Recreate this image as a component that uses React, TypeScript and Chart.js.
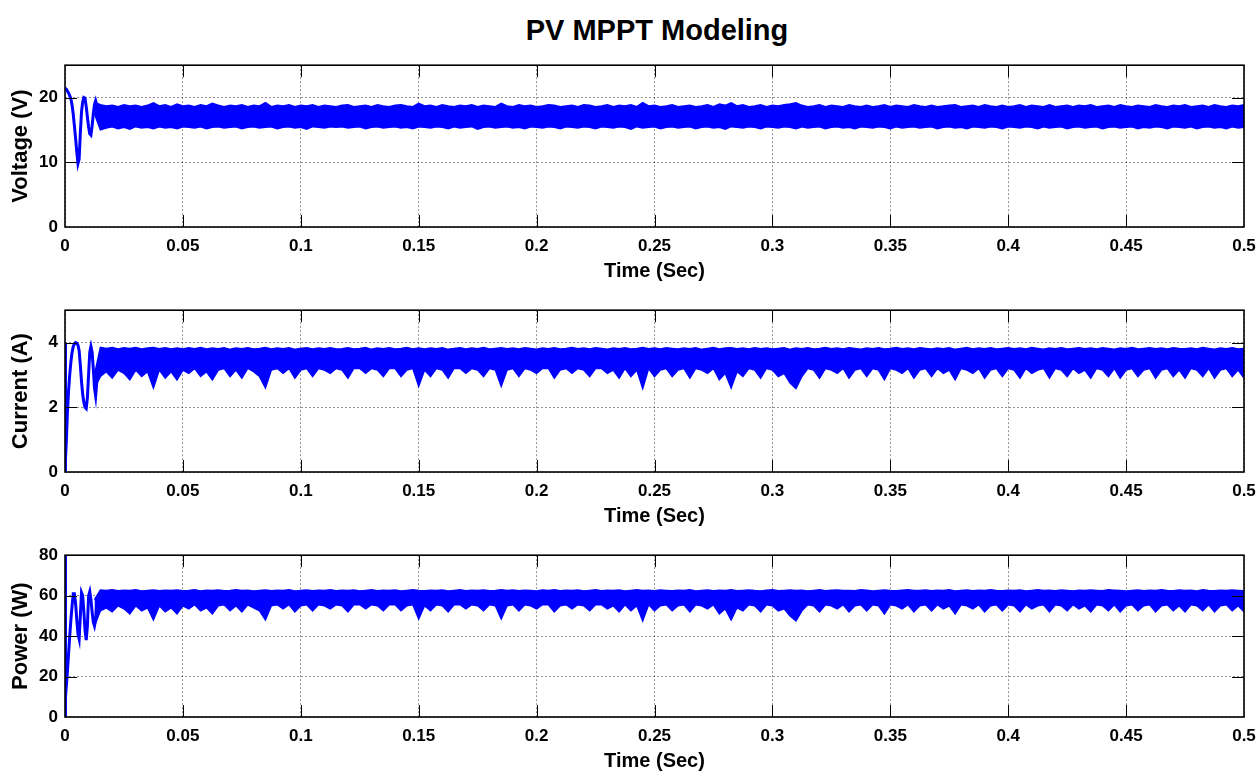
import React, { useEffect, useRef } from 'react';
import { Chart, registerables } from 'chart.js';

Chart.register(...registerables);

const FONT = 'Arial, "Liberation Sans", Helvetica, sans-serif';
const BLUE = '#0000ff';
const GRID = 'rgba(0,0,0,0.42)';

const TITLE = 'PV MPPT Modeling';
const X_TITLE = 'Time (Sec)';
const X_TICKS = [0, 0.05, 0.1, 0.15, 0.2, 0.25, 0.3, 0.35, 0.4, 0.45, 0.5];
const X_TICK_LABELS = ['0', '0.05', '0.1', '0.15', '0.2', '0.25', '0.3', '0.35', '0.4', '0.45', '0.5'];

const V_TICKS = [0, 10, 20];
const V_TICK_LABELS = ['0', '10', '20'];
const I_TICKS = [0, 2, 4];
const I_TICK_LABELS = ['0', '2', '4'];
const P_TICKS = [0, 20, 40, 60, 80];
const P_TICK_LABELS = ['0', '20', '40', '60', '80'];

// start-up transient (s)
const TR_T = [0, 0.0001, 0.0003, 0.0006, 0.001, 0.0015, 0.002, 0.0025, 0.003, 0.0035, 0.004, 0.0045, 0.005, 0.0055, 0.006, 0.0065, 0.007, 0.0075, 0.008, 0.0085, 0.009, 0.0095, 0.01, 0.0105, 0.011, 0.0115, 0.012, 0.0125, 0.013, 0.0135];
const V_TR = [21.5, 21.5, 21.4, 21.3, 21.0, 20.7, 20.3, 19.8, 18.8, 17.4, 15.6, 13.6, 11.6, 9.8, 10.5, 14.5, 17.8, 19.3, 20.0, 19.9, 18.6, 17.0, 15.5, 14.4, 14.2, 15.6, 17.5, 18.9, 19.5, 18.8];
const I_TR = [0, 4.0, 0.4, 1.0, 1.8, 2.5, 3.0, 3.4, 3.7, 3.88, 3.96, 4.0, 3.98, 3.92, 3.75, 3.3, 2.8, 2.4, 2.15, 2.0, 1.96, 2.3, 3.0, 3.7, 3.88, 3.7, 3.2, 2.6, 2.35, 2.8];
const P_TR = [0, 80, 10, 16, 22, 31, 40, 48, 55, 61, 61, 56, 48, 41, 38.5, 50, 61.5, 60, 52, 43, 38, 45, 60, 62, 58, 52, 47, 45, 48, 56];

// steady-state ripple band: envelopes sampled every BAND_STEP seconds from BAND_START
const BAND_START = 0.0125;
const BAND_STEP = 0.0025;

const V_HIGH = [
  19.3, 18.9, 18.7, 18.8, 18.6, 18.9, 18.7, 18.8, 18.6, 18.8, 19.2, 18.7, 18.9, 18.6,
  19.0, 18.7, 18.8, 18.6, 18.9, 18.7, 19.1, 18.8, 18.6, 18.8, 18.7, 18.9, 18.6, 18.8,
  18.7, 19.2, 18.6, 18.8, 18.7, 18.9, 18.6, 18.8, 18.7, 18.9, 18.6, 18.8, 18.7, 18.6,
  18.8, 18.9, 18.6, 18.7, 18.8, 18.6, 18.9, 18.7, 18.6, 18.8, 18.9, 18.7, 18.6, 19.1,
  18.7, 18.8, 18.6, 18.9, 18.7, 18.6, 18.8, 18.7, 18.9, 18.6, 18.8, 18.7, 18.6, 19.1,
  18.7, 18.6, 18.9, 18.7, 18.8, 18.6, 18.7, 18.9, 18.8, 18.6, 18.7, 18.8, 18.6, 18.9,
  18.8, 18.6, 18.7, 18.9, 18.6, 18.8, 18.7, 18.9, 18.6, 19.2, 18.7, 18.8, 18.6, 18.7,
  18.9, 18.6, 18.7, 18.8, 18.6, 18.7, 18.9, 18.6, 19.0, 18.8, 19.2, 18.7, 18.9, 18.6,
  18.7, 18.9, 18.6, 18.8, 18.7, 18.9, 19.0, 19.2, 18.8, 18.6, 18.7, 18.9, 18.6, 18.8,
  18.7, 18.6, 18.9, 18.7, 18.6, 18.8, 18.6, 18.7, 18.9, 18.6, 18.8, 18.7, 18.6, 18.9,
  18.7, 18.6, 18.8, 18.6, 18.7, 18.8, 18.9, 18.6, 18.7, 18.8, 18.6, 18.9, 18.7, 18.6,
  18.8, 18.6, 18.7, 18.9, 18.6, 18.8, 18.7, 18.6, 18.9, 18.6, 18.7, 18.8, 18.6, 18.8,
  18.7, 18.9, 18.6, 18.7, 18.8, 18.6, 18.9, 18.7, 18.6, 18.8, 18.7, 18.6, 18.9, 18.7,
  18.6, 18.8, 18.7, 18.9, 18.6, 18.7, 18.8, 18.6, 18.9, 18.7, 18.6, 18.8, 18.7, 18.9,
];
const V_LOW = [
  17.5, 15.0, 15.3, 15.5, 15.2, 15.4, 15.1, 15.5, 15.3, 15.4, 15.2, 15.5, 15.3, 15.4,
  15.2, 15.5, 15.4, 15.3, 15.5, 15.2, 15.4, 15.5, 15.3, 15.4, 15.5, 15.2, 15.4, 15.5,
  15.3, 15.4, 15.5, 15.2, 15.4, 15.5, 15.3, 15.4, 15.1, 15.5, 15.4, 15.3, 15.5, 15.4,
  15.5, 15.3, 15.4, 15.5, 15.2, 15.4, 15.5, 15.3, 15.4, 15.5, 15.3, 15.4, 15.2, 15.5,
  15.4, 15.3, 15.5, 15.4, 15.2, 15.5, 15.3, 15.4, 15.5, 15.1, 15.4, 15.5, 15.3, 15.4,
  15.5, 15.3, 15.4, 15.2, 15.5, 15.4, 15.3, 15.5, 15.4, 15.2, 15.5, 15.4, 15.3, 15.5,
  15.4, 15.2, 15.5, 15.4, 15.3, 15.5, 15.4, 15.1, 15.5, 15.3, 15.4, 15.5, 15.2, 15.4,
  15.5, 15.3, 15.4, 15.5, 15.2, 15.4, 15.5, 15.3, 15.4, 15.1, 15.5, 15.4, 15.3, 15.5,
  15.4, 15.2, 15.5, 15.4, 15.3, 15.5, 15.4, 15.2, 15.5, 15.3, 15.4, 15.5, 15.2, 15.4,
  15.5, 15.3, 15.4, 15.2, 15.5, 15.4, 15.3, 15.5, 15.4, 15.2, 15.5, 15.3, 15.4, 15.5,
  15.3, 15.4, 15.5, 15.2, 15.4, 15.5, 15.3, 15.4, 15.2, 15.5, 15.4, 15.3, 15.5, 15.4,
  15.2, 15.5, 15.4, 15.3, 15.5, 15.4, 15.2, 15.5, 15.3, 15.4, 15.5, 15.2, 15.4, 15.5,
  15.3, 15.4, 15.5, 15.2, 15.4, 15.5, 15.3, 15.4, 15.5, 15.2, 15.4, 15.3, 15.5, 15.4,
  15.2, 15.5, 15.4, 15.3, 15.5, 15.2, 15.4, 15.5, 15.3, 15.4, 15.2, 15.5, 15.3, 15.4,
];

const I_HIGH = [
  3.0, 3.85, 3.82, 3.85, 3.8, 3.84, 3.82, 3.85, 3.8, 3.83, 3.85, 3.81, 3.84, 3.8,
  3.83, 3.8, 3.84, 3.81, 3.85, 3.8, 3.83, 3.81, 3.84, 3.79, 3.83, 3.81, 3.84, 3.8,
  3.82, 3.85, 3.8, 3.83, 3.81, 3.84, 3.79, 3.82, 3.84, 3.8, 3.83, 3.81, 3.84, 3.8,
  3.81, 3.84, 3.8, 3.82, 3.85, 3.79, 3.83, 3.81, 3.84, 3.8, 3.82, 3.85, 3.8, 3.83,
  3.8, 3.83, 3.81, 3.84, 3.79, 3.82, 3.84, 3.8, 3.83, 3.81, 3.85, 3.8, 3.82, 3.84,
  3.81, 3.83, 3.8, 3.84, 3.82, 3.79, 3.83, 3.81, 3.84, 3.8, 3.82, 3.85, 3.81, 3.83,
  3.8, 3.84, 3.82, 3.79, 3.83, 3.81, 3.84, 3.8, 3.82, 3.85, 3.81, 3.83, 3.8, 3.84,
  3.82, 3.8, 3.83, 3.81, 3.84, 3.79, 3.82, 3.85, 3.8, 3.83, 3.84, 3.81, 3.83, 3.8,
  3.84, 3.81, 3.83, 3.8, 3.82, 3.84, 3.79, 3.83, 3.81, 3.84, 3.8, 3.82, 3.85, 3.81,
  3.83, 3.8, 3.84, 3.82, 3.79, 3.83, 3.81, 3.84, 3.8, 3.82, 3.85, 3.81, 3.83, 3.8,
  3.84, 3.82, 3.8, 3.83, 3.81, 3.84, 3.79, 3.82, 3.85, 3.8, 3.83, 3.81, 3.84, 3.8,
  3.82, 3.84, 3.81, 3.83, 3.8, 3.85, 3.82, 3.79, 3.83, 3.81, 3.84, 3.8, 3.82, 3.84,
  3.81, 3.83, 3.8, 3.84, 3.82, 3.79, 3.83, 3.81, 3.85, 3.8, 3.82, 3.84, 3.81, 3.83,
  3.8, 3.84, 3.82, 3.81, 3.83, 3.8, 3.85, 3.82, 3.79, 3.83, 3.81, 3.84, 3.8, 3.82,
];
const I_LOW = [
  2.6, 2.95, 3.1, 2.9, 3.15, 3.05, 2.85, 3.15, 2.95, 3.1, 2.6, 3.15, 2.9, 3.1,
  2.85, 3.15, 3.05, 3.2, 2.95, 3.1, 2.85, 3.15, 3.2, 2.95, 3.15, 2.9, 3.2, 3.1,
  2.95, 2.6, 3.15, 3.2, 3.05, 3.2, 2.9, 3.15, 3.2, 2.95, 3.2, 3.15, 3.05, 3.2,
  3.15, 2.9, 3.2, 3.2, 3.05, 3.2, 3.15, 2.95, 3.2, 3.2, 2.95, 3.15, 3.2, 2.65,
  3.15, 2.95, 3.2, 3.15, 2.9, 3.2, 3.2, 3.05, 3.2, 3.15, 2.95, 3.2, 3.15, 2.65,
  3.15, 3.2, 2.95, 3.2, 3.15, 3.05, 3.2, 3.2, 2.9, 3.15, 3.2, 3.05, 3.2, 3.15,
  2.95, 3.2, 3.2, 3.05, 3.15, 2.9, 3.2, 2.95, 3.15, 2.58, 3.2, 2.95, 3.15, 3.2,
  2.95, 3.15, 3.2, 2.9, 3.2, 3.15, 3.05, 3.2, 2.85, 3.05, 2.6, 3.1, 2.95, 3.2,
  3.15, 2.9, 3.2, 3.15, 2.95, 3.05, 2.75, 2.58, 2.95, 3.2, 3.15, 2.9, 3.2, 3.15,
  3.05, 3.2, 2.9, 3.15, 3.2, 2.95, 3.2, 3.15, 2.85, 3.2, 3.15, 3.05, 3.2, 2.9,
  3.15, 3.2, 2.95, 3.2, 3.05, 3.15, 2.85, 3.2, 3.15, 3.05, 3.2, 2.9, 3.15, 3.2,
  2.95, 3.2, 3.15, 2.9, 3.2, 3.05, 3.15, 3.2, 2.9, 3.2, 3.15, 2.95, 3.2, 3.05,
  3.15, 2.9, 3.2, 3.15, 2.95, 3.2, 2.9, 3.15, 3.2, 2.95, 3.15, 3.2, 2.9, 3.15,
  3.2, 2.95, 3.15, 2.9, 3.2, 3.15, 2.95, 3.2, 2.9, 3.15, 3.2, 2.95, 3.15, 2.9,
];

const P_HIGH = [
  58, 62.8, 62.5, 62.9, 62.4, 62.7, 62.5, 62.9, 62.3, 62.6, 62.8, 62.4, 62.7, 62.5,
  62.8, 62.4, 62.6, 62.9, 62.3, 62.7, 62.5, 62.8, 62.4, 62.6, 62.9, 62.5, 62.7, 62.3,
  62.6, 62.8, 62.4, 62.7, 62.5, 62.9, 62.3, 62.6, 62.8, 62.4, 62.7, 62.5, 62.9, 62.4,
  62.7, 62.5, 62.8, 62.3, 62.6, 62.9, 62.4, 62.7, 62.5, 62.8, 62.3, 62.6, 62.9, 62.5,
  62.4, 62.7, 62.5, 62.8, 62.3, 62.6, 62.9, 62.4, 62.7, 62.5, 62.8, 62.4, 62.6, 62.9,
  62.5, 62.8, 62.4, 62.7, 62.6, 62.3, 62.8, 62.5, 62.9, 62.4, 62.7, 62.5, 62.8, 62.3,
  62.6, 62.9, 62.4, 62.7, 62.5, 62.8, 62.3, 62.6, 62.9, 62.5, 62.7, 62.4, 62.8, 62.6,
  62.4, 62.7, 62.5, 62.9, 62.3, 62.6, 62.8, 62.4, 62.7, 62.5, 62.9, 62.4, 62.6, 62.8,
  62.5, 62.3, 62.7, 62.9, 62.4, 62.6, 62.8, 62.5, 62.7, 62.3, 62.6, 62.9, 62.4, 62.7,
  62.8, 62.5, 62.6, 62.4, 62.9, 62.7, 62.3, 62.6, 62.8, 62.5, 62.4, 62.7, 62.9, 62.5,
  62.6, 62.8, 62.4, 62.7, 62.5, 62.9, 62.3, 62.6, 62.8, 62.4, 62.7, 62.5, 62.9, 62.6,
  62.4, 62.7, 62.5, 62.8, 62.3, 62.6, 62.9, 62.5, 62.7, 62.4, 62.8, 62.6, 62.3, 62.7,
  62.5, 62.8, 62.6, 62.4, 62.9, 62.7, 62.5, 62.3, 62.6, 62.8, 62.4, 62.7, 62.5, 62.9,
  62.6, 62.4, 62.8, 62.5, 62.7, 62.3, 62.9, 62.6, 62.4, 62.7, 62.5, 62.8, 62.6, 62.4,
];
const P_LOW = [
  45, 52.5, 54, 52, 55, 53.5, 51, 55, 52.5, 54, 48, 55, 52, 54,
  51, 55, 53.5, 55.5, 52.5, 54, 51, 55, 55.5, 52.5, 55, 52, 55.5, 54,
  52.5, 48, 55, 55.5, 53.5, 55.5, 52, 55, 55.5, 52.5, 55.5, 55, 53.5, 55.5,
  55, 52, 55.5, 55.5, 53.5, 55.5, 55, 52.5, 55.5, 55.5, 52.5, 55, 55.5, 48.5,
  55, 52.5, 55.5, 55, 52, 55.5, 55.5, 53.5, 55.5, 55, 52.5, 55.5, 55, 48.5,
  55, 55.5, 52.5, 55.5, 55, 53.5, 55.5, 55.5, 52, 55, 55.5, 53.5, 55.5, 55,
  52.5, 55.5, 55.5, 53.5, 55, 52, 55.5, 52.5, 55, 47.5, 55.5, 52.5, 55, 55.5,
  52.5, 55, 55.5, 52, 55.5, 55, 53.5, 55.5, 51, 53.5, 48, 54, 52.5, 55.5,
  55, 52, 55.5, 55, 52.5, 53.5, 50, 47.5, 52.5, 55.5, 55, 52, 55.5, 55,
  53.5, 55.5, 52, 55, 55.5, 52.5, 55.5, 55, 51, 55.5, 55, 53.5, 55.5, 52,
  55, 55.5, 52.5, 55.5, 53.5, 55, 51, 55.5, 55, 53.5, 55.5, 52, 55, 55.5,
  52.5, 55.5, 55, 52, 55.5, 53.5, 55, 55.5, 52, 55.5, 55, 52.5, 55.5, 53.5,
  55, 52, 55.5, 55, 52.5, 55.5, 52, 55, 55.5, 52.5, 55, 55.5, 52, 55,
  55.5, 52.5, 55, 52, 55.5, 55, 52.5, 55.5, 52, 55, 55.5, 52.5, 55, 52,
];

const BAND_T = V_HIGH.map((_, i) => BAND_START + i * BAND_STEP);

const W = 1257;
const PAD_TOP = 12;
const PLOT_H = 167;
const X_AXIS_H = 56;
const Y_AXIS_W = 65;
const PAD_RIGHT = 13;
const CANVAS_H = PAD_TOP + PLOT_H + X_AXIS_H;

type PanelCfg = {
  plotTop: number;
  yLabel: string;
  yMax: number;
  yTicks: number[];
  yTickLabels: string[];
  tr: number[];
  low: number[];
  high: number[];
};

const PANELS: PanelCfg[] = [
  { plotTop: 60, yLabel: 'Voltage (V)', yMax: 25, yTicks: V_TICKS, yTickLabels: V_TICK_LABELS, tr: V_TR, low: V_LOW, high: V_HIGH },
  { plotTop: 305, yLabel: 'Current (A)', yMax: 5, yTicks: I_TICKS, yTickLabels: I_TICK_LABELS, tr: I_TR, low: I_LOW, high: I_HIGH },
  { plotTop: 550, yLabel: 'Power (W)', yMax: 80, yTicks: P_TICKS, yTickLabels: P_TICK_LABELS, tr: P_TR, low: P_LOW, high: P_HIGH },
];

const boxPlugin = {
  id: 'matlabBox',
  afterDraw(chart: any) {
    const { ctx, chartArea } = chart;
    const { left, top, right, bottom } = chartArea;
    const xs = chart.scales.x;
    const ys = chart.scales.y;
    const TL = 12;
    ctx.save();
    ctx.setLineDash([]);
    ctx.strokeStyle = '#000';
    ctx.lineWidth = 1;
    ctx.beginPath();
    xs.ticks.forEach((t: any) => {
      const px = Math.round(xs.getPixelForValue(t.value)) + 0.5;
      if (px <= left + 1 || px >= right - 1) return;
      ctx.moveTo(px, bottom);
      ctx.lineTo(px, bottom - TL);
      ctx.moveTo(px, top);
      ctx.lineTo(px, top + TL);
    });
    ys.ticks.forEach((t: any) => {
      const py = Math.round(ys.getPixelForValue(t.value)) + 0.5;
      if (py <= top + 1 || py >= bottom - 1) return;
      ctx.moveTo(left, py);
      ctx.lineTo(left + TL, py);
      ctx.moveTo(right, py);
      ctx.lineTo(right - TL, py);
    });
    ctx.stroke();
    ctx.lineWidth = 1.6;
    ctx.strokeRect(left, top, right - left, bottom - top);
    ctx.restore();
  },
};

function Panel({ cfg }: { cfg: PanelCfg }) {
  const ref = useRef<HTMLCanvasElement>(null);
  useEffect(() => {
    const tickFont = { family: FONT, size: 17, weight: 'bold' as const };
    const chart = new Chart(ref.current as HTMLCanvasElement, {
      type: 'line',
      data: {
        datasets: [
          {
            data: BAND_T.map((t, i) => ({ x: t, y: cfg.low[i] })),
            borderColor: BLUE,
            backgroundColor: BLUE,
            borderWidth: 1.5,
            pointRadius: 0,
            tension: 0,
            fill: false,
          },
          {
            data: BAND_T.map((t, i) => ({ x: t, y: cfg.high[i] })),
            borderColor: BLUE,
            backgroundColor: BLUE,
            borderWidth: 1.5,
            pointRadius: 0,
            tension: 0,
            fill: '-1',
          },
          {
            data: TR_T.map((t, i) => ({ x: t, y: cfg.tr[i] })),
            borderColor: BLUE,
            backgroundColor: BLUE,
            borderWidth: 3,
            pointRadius: 0,
            tension: 0,
            fill: false,
          },
        ],
      },
      options: {
        animation: false,
        responsive: false,
        devicePixelRatio: 1,
        layout: { padding: { top: PAD_TOP, right: PAD_RIGHT, left: 0, bottom: 0 } },
        plugins: {
          legend: { display: false },
          tooltip: { enabled: false },
          title: { display: false },
        },
        scales: {
          x: {
            type: 'linear',
            min: 0,
            max: 0.5,
            afterBuildTicks: (s: any) => {
              s.ticks = X_TICKS.map((v) => ({ value: v }));
            },
            afterFit: (s: any) => {
              s.height = X_AXIS_H;
              s.paddingLeft = 0;
              s.paddingRight = 0;
            },
            ticks: {
              callback: (_v: any, i: number) => X_TICK_LABELS[i],
              font: tickFont,
              color: '#000',
              padding: 9,
              maxRotation: 0,
              autoSkip: false,
            },
            grid: { color: GRID, lineWidth: 1, drawTicks: false },
            border: { display: false, dash: [2, 2] },
            title: {
              display: true,
              text: X_TITLE,
              color: '#000',
              font: { family: FONT, size: 20, weight: 'bold' },
              padding: 0,
            },
          },
          y: {
            type: 'linear',
            min: 0,
            max: cfg.yMax,
            afterBuildTicks: (s: any) => {
              s.ticks = cfg.yTicks.map((v) => ({ value: v }));
            },
            afterFit: (s: any) => {
              s.width = Y_AXIS_W;
            },
            ticks: {
              callback: (_v: any, i: number) => cfg.yTickLabels[i],
              font: tickFont,
              color: '#000',
              padding: 7,
              autoSkip: false,
            },
            grid: { color: GRID, lineWidth: 1, drawTicks: false },
            border: { display: false, dash: [2, 2] },
            title: {
              display: true,
              text: cfg.yLabel,
              color: '#000',
              font: { family: FONT, size: 22, weight: 'bold' },
              padding: { top: 8, bottom: 0 },
            },
          },
        },
      } as any,
      plugins: [boxPlugin],
    });
    return () => chart.destroy();
  }, [cfg]);
  return (
    <div style={{ position: 'absolute', left: 0, top: cfg.plotTop - PAD_TOP, width: W, height: CANVAS_H }}>
      <canvas ref={ref} width={W} height={CANVAS_H} style={{ display: 'block', width: W, height: CANVAS_H }} />
    </div>
  );
}

export default function App() {
  return (
    <div style={{ position: 'absolute', left: 0, top: 0, width: W, height: 772, overflow: 'hidden', background: '#fff' }}>
      <div
        style={{
          position: 'absolute',
          left: 657,
          top: 12,
          transform: 'translateX(-50%)',
          whiteSpace: 'nowrap',
          fontFamily: FONT,
          fontWeight: 'bold',
          fontSize: 29,
          lineHeight: '36px',
          color: '#000',
        }}
      >
        {TITLE}
      </div>
      {PANELS.map((p) => (
        <Panel key={p.yLabel} cfg={p} />
      ))}
    </div>
  );
}
